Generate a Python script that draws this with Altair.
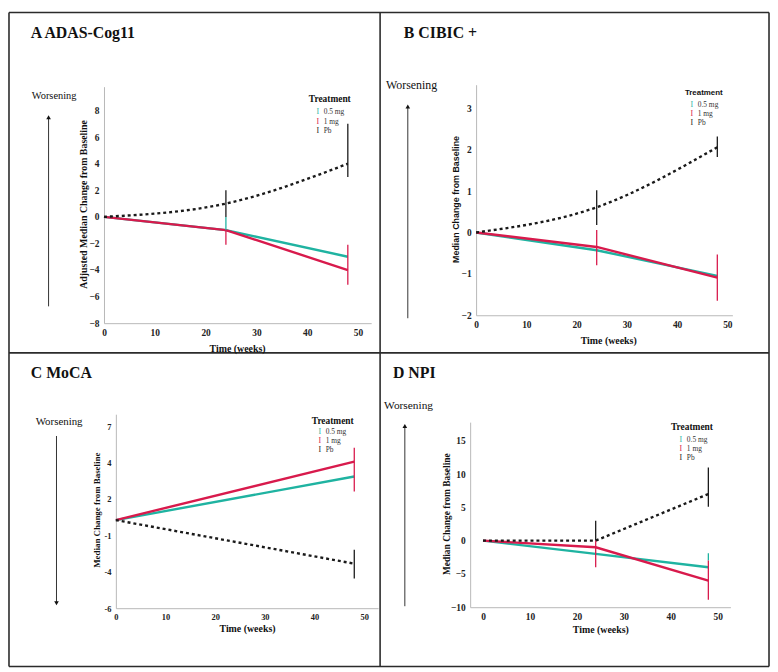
import altair as alt
import pandas as pd

W, H = 770, 664
SERIF = "Liberation Serif"
SANS = "Liberation Sans"
TEAL = "#1fb3a1"
RED = "#d81a4c"
BLACK = "#1a1a1a"

GROUPS = ["0.5 mg", "1 mg", "Pb"]
COLORS = [TEAL, RED, BLACK]

# ---- Panel A: ADAS-Cog11 ----
A_WEEKS = [0, 24, 48]
A_HALF = [0, -1, -3]
A_ONE = [0, -1, -4]
A_PB = [0, 1, 4]
A_ERR_WEEK = [24, 24, 24, 48, 48]
A_ERR_GROUP = ["0.5 mg", "1 mg", "Pb", "1 mg", "Pb"]
A_ERR_LO = [-1, -2.1, 0, -5.1, 3]
A_ERR_HI = [0, -1, 2, -2.1, 7]
A_XTICKS = [0, 10, 20, 30, 40, 50]
A_YTICKS = [-8, -6, -4, -2, 0, 2, 4, 6, 8]

# ---- Panel B: CIBIC+ ----
B_WEEKS = [0, 24, 48]
B_HALF = [0, -0.43, -1.05]
B_ONE = [0, -0.35, -1.09]
B_PB = [0, 0.61, 2.06]
B_ERR_WEEK = [24, 24, 48, 48]
B_ERR_GROUP = ["Pb", "1 mg", "1 mg", "Pb"]
B_ERR_LO = [0.18, -0.79, -1.65, 1.82]
B_ERR_HI = [1.02, 0.06, -0.53, 2.32]
B_XTICKS = [0, 10, 20, 30, 40, 50]
B_YTICKS = [-2, -1, 0, 1, 2, 3]

# ---- Panel C: MoCA ----
C_WEEKS = [0, 48]
C_HALF = [0.29, 3.40]
C_ONE = [0.29, 4.46]
C_PB = [0.29, -2.82]
C_ERR_WEEK = [48, 48]
C_ERR_GROUP = ["1 mg", "Pb"]
C_ERR_LO = [2.34, -3.88]
C_ERR_HI = [5.45, -1.83]
C_XTICKS = [0, 10, 20, 30, 40, 50]
C_YTICKS = [-6, -3.4, -0.8, 1.8, 4.4, 7]
C_YLABELS = ["-6", "-4", "-1", "2", "4", "7"]

# ---- Panel D: NPI ----
D_WEEKS = [0, 24, 48]
D_HALF = [0, -2, -4]
D_ONE = [0, -1, -6]
D_PB = [0, 0, 7]
D_ERR_WEEK = [24, 24, 48, 48, 48]
D_ERR_GROUP = ["Pb", "1 mg", "0.5 mg", "1 mg", "Pb"]
D_ERR_LO = [0, -4, -3, -8.9, 5.1]
D_ERR_HI = [3, 0, -1.9, -3, 11]
D_XTICKS = [0, 10, 20, 30, 40, 50]
D_YTICKS = [-10, -5, 0, 5, 10, 15]

ONE_ROW = pd.DataFrame({"k": [0]})
color_scale = alt.Scale(domain=GROUPS, range=COLORS)


def sc(dom, rng):
    return alt.Scale(domain=dom, range=rng, nice=False, zero=False)


def panel(weeks, half, one, pb, ew, eg, elo, ehi, xd, xr, yd, yr,
          xticks, yticks, ylabels=None, pb_interp="linear", lab_size=9.5):
    lines = pd.DataFrame({
        "week": weeks * 2,
        "value": half + one,
        "group": ["0.5 mg"] * len(weeks) + ["1 mg"] * len(weeks),
    })
    pbdf = pd.DataFrame({"week": weeks, "value": pb, "group": ["Pb"] * len(weeks)})
    err = pd.DataFrame({"week": ew, "group": eg, "lo": elo, "hi": ehi})
    xs = sc(xd, xr)
    ys = sc(yd, yr)
    yaxis_kw = dict(orient="left", offset=-xr[0], values=yticks, title=None,
                    ticks=False, grid=False, domainColor="#b8b8b8",
                    labelFont=SERIF, labelFontWeight="bold", labelFontSize=lab_size,
                    labelColor="#222", labelPadding=5, labelOverlap=False)
    if ylabels is not None:
        mapping = " : ".join(
            f"abs(datum.value - ({v})) < 0.01 ? '{l}'" for v, l in zip(yticks, ylabels)
        ) + " : ''"
        yaxis_kw["labelExpr"] = mapping
    xaxis = alt.Axis(orient="bottom", offset=yr[0] - H, values=xticks, title=None,
                     ticks=False, grid=False, domainColor="#b8b8b8",
                     labelFont=SERIF, labelFontWeight="bold", labelFontSize=lab_size,
                     labelColor="#222", labelPadding=4, labelFlush=False,
                     labelOverlap=False)
    base_line = alt.Chart(lines).mark_line(strokeWidth=2.4).encode(
        x=alt.X("week:Q", scale=xs, axis=xaxis),
        y=alt.Y("value:Q", scale=ys, axis=alt.Axis(**yaxis_kw)),
        color=alt.Color("group:N", scale=color_scale, legend=None),
        detail="group:N",
    )
    pb_line = alt.Chart(pbdf).mark_line(
        strokeWidth=2.4, strokeDash=[3, 3], interpolate=pb_interp, color=BLACK
    ).encode(
        x=alt.X("week:Q", scale=xs, axis=None),
        y=alt.Y("value:Q", scale=ys, axis=None),
    )
    errs = alt.Chart(err).mark_rule(strokeWidth=1.3).encode(
        x=alt.X("week:Q", scale=xs, axis=None),
        y=alt.Y("lo:Q", scale=ys, axis=None),
        y2="hi:Q",
        color=alt.Color("group:N", scale=color_scale, legend=None),
    )
    return [base_line, pb_line, errs]


def text(txt, x, y, size, font=SERIF, weight="normal", align="left",
         baseline="middle", angle=0, color="#111"):
    return alt.Chart(ONE_ROW).mark_text(
        text=txt, font=font, fontSize=size, fontWeight=weight, align=align,
        baseline=baseline, angle=angle, color=color
    ).encode(x=alt.value(x), y=alt.value(y))


def arrow(x, y_tail, y_head):
    up = y_head < y_tail
    shaft = alt.Chart(ONE_ROW).mark_rule(color="#333", strokeWidth=1).encode(
        x=alt.value(x), y=alt.value(y_tail), y2=alt.value(y_head + (3 if up else -3))
    )
    head = alt.Chart(ONE_ROW).mark_point(
        shape="triangle-up" if up else "triangle-down", filled=True,
        size=22, color="#111", opacity=1
    ).encode(x=alt.value(x), y=alt.value(y_head + (2 if up else -2)))
    return [shaft, head]


def legend(x_title, y_title, x_glyph, y_rows, title_font=SERIF, title_size=9.5):
    ldf = pd.DataFrame({"group": GROUPS, "row": [0, 1, 2]})
    ys = sc([0, 2], [y_rows[0], y_rows[2]])
    glyph = alt.Chart(ldf).mark_text(
        text="I", font=SERIF, fontSize=8, align="center", baseline="middle"
    ).encode(
        x=alt.value(x_glyph),
        y=alt.Y("row:Q", scale=ys, axis=None),
        color=alt.Color("group:N", scale=color_scale, legend=None),
    )
    labels = alt.Chart(ldf).mark_text(
        font=SERIF, fontSize=7.5, align="left", baseline="middle", color="#333"
    ).encode(
        x=alt.value(x_glyph + 6),
        y=alt.Y("row:Q", scale=ys, axis=None),
        text="group:N",
    )
    return [text("Treatment", x_title, y_title, title_size, font=title_font,
                 weight="bold"), glyph, labels]


def border(x1, y1, x2, y2):
    return alt.Chart(ONE_ROW).mark_rule(color="#2b2b2b", strokeWidth=1.6).encode(
        x=alt.value(x1), x2=alt.value(x2), y=alt.value(y1), y2=alt.value(y2)
    )


layers = []
# borders
layers += [border(1, 1, 769, 1), border(1, 662, 769, 662), border(1, 1, 1, 662),
           border(769, 1, 769, 662), border(376, 1, 376, 662), border(1, 345, 769, 345)]

# Panel A
layers += panel(A_WEEKS, A_HALF, A_ONE, A_PB, A_ERR_WEEK, A_ERR_GROUP, A_ERR_LO,
                A_ERR_HI, [0, 52.6], [97, 367], [-8, 9.8], [315, 76],
                A_XTICKS, A_YTICKS, pb_interp="monotone")
layers += [text("A ADAS-Cog11", 23, 27, 16, weight="bold", baseline="alphabetic"),
           text("Worsening", 24, 85, 10.5),
           text("Adjusted Median Change from Baseline", 77, 195, 10, weight="bold",
                align="center", angle=270),
           text("Time (weeks)", 232, 341, 10, weight="bold", align="center")]
layers += arrow(41, 298, 105)
layers += legend(304, 88, 313, [102, 111.5, 121])

# Panel B
layers += panel(B_WEEKS, B_HALF, B_ONE, B_PB, B_ERR_WEEK, B_ERR_GROUP, B_ERR_LO,
                B_ERR_HI, [0, 51], [473, 732], [-2, 3.57], [307, 74],
                B_XTICKS, B_YTICKS, pb_interp="monotone")
layers += [text("B CIBIC +", 400, 27, 16, weight="bold", baseline="alphabetic"),
           text("Worsening", 382, 74, 12),
           text("Median Change from Baseline", 453, 190, 9, font=SANS, weight="bold",
                align="center", angle=270),
           text("Time (weeks)", 607, 333, 10, weight="bold", align="center")]
layers += arrow(404, 310, 94)
layers += legend(684, 82, 691, [95, 104, 113], title_font=SANS, title_size=8)

# Panel C
layers += panel(C_WEEKS, C_HALF, C_ONE, C_PB, C_ERR_WEEK, C_ERR_GROUP, C_ERR_LO,
                C_ERR_HI, [0, 52.8], [109, 374], [-6, 7.85], [603, 407],
                C_XTICKS, C_YTICKS, ylabels=C_YLABELS, lab_size=8.5)
layers += [text("C MoCA", 23, 370, 16, weight="bold", baseline="alphabetic"),
           text("Worsening", 28, 415, 11),
           text("Median Change from Baseline", 90, 504, 9, weight="bold",
                align="center", angle=270),
           text("Time (weeks)", 242, 624, 10, weight="bold", align="center")]
layers += arrow(49, 429, 600)
layers += legend(307, 414, 315, [425, 434, 443])

# Panel D
layers += panel(D_WEEKS, D_HALF, D_ONE, D_PB, D_ERR_WEEK, D_ERR_GROUP, D_ERR_LO,
                D_ERR_HI, [-2.74, 52.7], [467, 730], [-10, 17.8], [602, 415],
                D_XTICKS, D_YTICKS)
layers += [text("D NPI", 389, 370, 16, weight="bold", baseline="alphabetic"),
           text("Worsening", 380, 399, 11.5),
           text("Median Change from Baseline", 444, 508, 9.5, weight="bold",
                align="center", angle=270),
           text("Time (weeks)", 599, 625, 10, weight="bold", align="center")]
layers += arrow(401, 601, 417)
layers += legend(670, 420, 680, [433, 442, 451])

chart = alt.layer(*layers).properties(
    width=W, height=H, padding=0,
    autosize=alt.AutoSizeParams(type="none"),
).resolve_scale(x="independent", y="independent").configure_view(stroke=None)

chart.save("out.html", embed_options={"renderer": "svg", "actions": False})
